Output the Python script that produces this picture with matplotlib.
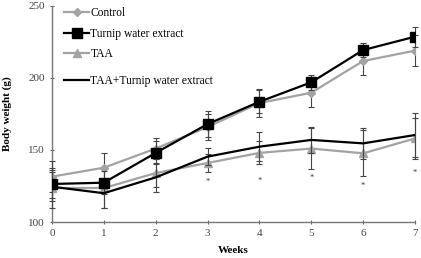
import matplotlib
matplotlib.use("Agg")
import matplotlib.pyplot as plt
from matplotlib.lines import Line2D

weeks = [0, 1, 2, 3, 4, 5, 6, 7]
control = [131.5, 137.7, 151, 166, 182.6, 189.8, 211.8, 219]
control_err = [11, 10, 7, 9, 10, 10, 10, 11]
turnip = [126.4, 127.3, 148, 168, 183.5, 197, 219.4, 228.7]
turnip_err = [10, 8, 8, 9, 8, 5, 5, 7]
taa = [123.6, 123.6, 134, 141, 148, 151, 147.7, 158]
taa_err = [14, 14, 10, 6, 8, 14, 16, 14]
taa_turnip = [124.5, 120, 131, 145.4, 152.3, 157, 154.6, 160.4]
taa_turnip_err = [10, 10, 10, 6, 10, 9, 11, 15]
asterisk_x = [3, 4, 5, 6, 7]
asterisk_y = [128, 128.5, 130.8, 125, 134]
labels = ['Control', 'Turnip water extract', 'TAA', 'TAA+Turnip water extract']

plt.rcParams['font.family'] = ['Liberation Serif', 'DejaVu Serif']

fig = plt.figure(figsize=(4.21, 2.58), dpi=100)
ax = fig.add_axes([52/421, 1-222/258, (415-52)/421, (222-6)/258])

gray = '#a3a3a3'
styles = [
    dict(color=gray, marker='D', ms=4.5),
    dict(color='black', marker='s', ms=7),
    dict(color=gray, marker='^', ms=5.5),
    dict(color='black', marker=None, ms=0),
]
series = [(control, control_err), (turnip, turnip_err), (taa, taa_err), (taa_turnip, taa_turnip_err)]
zs = [3, 4, 3, 4]
for (vals, err), st, z in zip(series, styles, zs):
    eb = ax.errorbar(weeks, vals, yerr=err, color=st['color'], lw=1.6, marker=st['marker'], ms=st['ms'],
                     ecolor='#444444', elinewidth=0.8, capsize=2.5, capthick=0.8, zorder=z)
    for c in eb.lines[1]:
        c.set_clip_on(False)
    for c in eb.lines[2]:
        c.set_clip_on(False)

for xa, ya in zip(asterisk_x, asterisk_y):
    ax.text(xa, ya, '*', ha='center', va='center', fontsize=6, color='#333333')

ax.set_xlim(0, 7)
ax.set_ylim(100, 250)
ax.set_xticks(weeks)
ax.set_yticks([100, 150, 200, 250])
for s in ['top', 'right']:
    ax.spines[s].set_visible(False)
for s in ['left', 'bottom']:
    ax.spines[s].set_color('#777777')
    ax.spines[s].set_linewidth(1.0)
ax.tick_params(axis='both', labelsize=8, colors='#666666', length=3, width=0.8, direction='inout')
ax.tick_params(axis='both', labelcolor='#444444')
ax.set_ylabel('Body weight (g)', fontsize=8, fontweight='bold', labelpad=12)
ax.set_xlabel('Weeks', fontsize=8, fontweight='bold', labelpad=6)

handles = [Line2D([], [], color=st['color'], lw=1.6, marker=st['marker'], ms=st['ms']) for st in styles]
leg1 = ax.legend(handles[:3], labels[:3], loc='upper left', bbox_to_anchor=(0.033, 0.995), frameon=False,
                 fontsize=8.3, handlelength=2.2, handletextpad=0.1, labelspacing=0.75,
                 borderaxespad=0, borderpad=0)
ax.add_artist(leg1)
ax.legend(handles[3:], labels[3:], loc='upper left', bbox_to_anchor=(0.033, 0.68), frameon=False,
          fontsize=8.3, handlelength=2.2, handletextpad=0.1, borderaxespad=0, borderpad=0)

fig.savefig('out.png', dpi=100)
